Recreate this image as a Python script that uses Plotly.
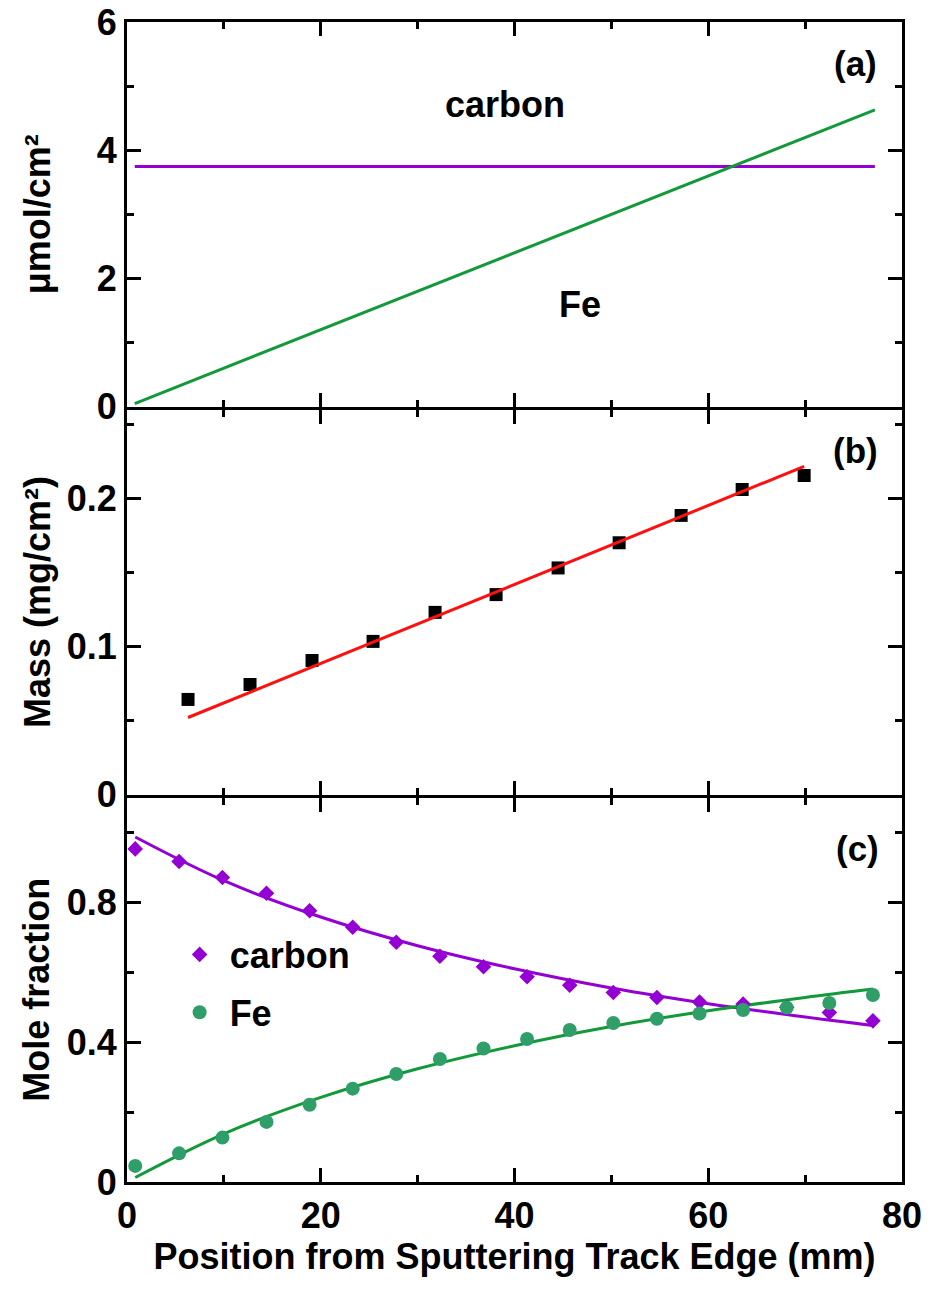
import plotly.graph_objects as go
from plotly.subplots import make_subplots

# ---- panel (a): areal amounts along the target (umol/cm^2)
a_x = [0.8, 77.2]
a_carbon = [3.746, 3.746]
a_fe = [0.046, 4.63]

# ---- panel (b): measured film mass and linear fit (mg/cm^2)
b_x = [6.3, 12.7, 19.1, 25.4, 31.8, 38.1, 44.5, 50.8, 57.2, 63.5, 69.9]
b_mass = [0.0642, 0.0743, 0.0905, 0.1034, 0.123, 0.135, 0.153, 0.170, 0.1885, 0.206, 0.2155]
b_fit_x = [6.3, 69.9]
b_fit_mass = [0.052, 0.2216]

# ---- panel (c): mole fractions
c_x = [0.85, 5.38, 9.85, 14.4, 18.85, 23.3, 27.8, 32.3, 36.8, 41.3, 45.7, 50.2,
       54.7, 59.1, 63.6, 68.1, 72.5, 77.0]
c_carbon = [0.953, 0.917, 0.871, 0.826, 0.776, 0.729, 0.686, 0.646, 0.616, 0.587,
            0.563, 0.542, 0.528, 0.515, 0.509, 0.500, 0.485, 0.461]
c_fe = [0.046, 0.082, 0.127, 0.172, 0.221, 0.267, 0.309, 0.352, 0.382, 0.409,
        0.435, 0.455, 0.467, 0.482, 0.492, 0.499, 0.512, 0.535]
c_fit_x = [0.85, 10, 20, 30, 40, 50, 60, 70, 77.0]
c_fit_carbon = [0.987, 0.862, 0.758, 0.676, 0.610, 0.555, 0.510, 0.472, 0.448]
c_fit_fe = [0.013, 0.138, 0.242, 0.324, 0.390, 0.445, 0.490, 0.528, 0.552]

x_ticks = [0, 20, 40, 60, 80]

PURPLE = "#9400D3"
GREEN_LINE = "#11993A"
GREEN_DOT = "#2F9E68"
RED = "#FF1010"

FONT = "Liberation Sans, Arial, sans-serif"

fig = make_subplots(rows=3, cols=1, shared_xaxes=True, vertical_spacing=0)

# (a)
fig.add_trace(go.Scatter(x=a_x, y=a_carbon, mode="lines", line=dict(color=PURPLE, width=3),
                         showlegend=False), row=1, col=1)
fig.add_trace(go.Scatter(x=a_x, y=a_fe, mode="lines", line=dict(color=GREEN_LINE, width=3),
                         showlegend=False), row=1, col=1)

# (b)
fig.add_trace(go.Scatter(x=b_x, y=b_mass, mode="markers",
                         marker=dict(symbol="square", size=13, color="black"),
                         showlegend=False), row=2, col=1)
fig.add_trace(go.Scatter(x=b_fit_x, y=b_fit_mass, mode="lines", line=dict(color=RED, width=3),
                         showlegend=False), row=2, col=1)

# (c)
fig.add_trace(go.Scatter(x=c_fit_x, y=c_fit_carbon, mode="lines", line_shape="spline",
                         line=dict(color=PURPLE, width=3), showlegend=False), row=3, col=1)
fig.add_trace(go.Scatter(x=c_fit_x, y=c_fit_fe, mode="lines", line_shape="spline",
                         line=dict(color=GREEN_LINE, width=3), showlegend=False), row=3, col=1)
fig.add_trace(go.Scatter(x=c_x, y=c_carbon, mode="markers", name="carbon", legendgroup="c",
                         marker=dict(symbol="diamond", size=12, color=PURPLE)), row=3, col=1)
fig.add_trace(go.Scatter(x=c_x, y=c_fe, mode="markers", name="Fe", legendgroup="fe",
                         marker=dict(symbol="circle", size=14, color=GREEN_DOT)), row=3, col=1)

axis_common = dict(showline=True, linewidth=3, linecolor="black", mirror="ticks",
                   ticks="inside", ticklen=14, tickwidth=2.5, tickcolor="black",
                   showgrid=False, zeroline=False, automargin=False,
                   tickfont=dict(family=FONT, size=36, color="black", weight="bold"))

for r in (1, 2, 3):
    fig.update_xaxes(range=[0, 80], tickvals=x_ticks,
                     minor=dict(dtick=10, tick0=0, ticks="inside", ticklen=7, tickwidth=2.5,
                                tickcolor="black", showgrid=False),
                     showticklabels=(r == 3), row=r, col=1, **axis_common)

# panel domains (paper height 1160 px); neighbouring frames share one border line
H = 1160.0
fig.update_yaxes(domain=[(775.5) / H, 1.0], row=1, col=1)
fig.update_yaxes(domain=[(387.5) / H, (772.5) / H], row=2, col=1)
fig.update_yaxes(domain=[0.0, (384.5) / H], row=3, col=1)

fig.update_yaxes(range=[0, 6], tickvals=[0, 2, 4, 6],
                 minor=dict(dtick=1, tick0=0, ticks="inside", ticklen=7, tickwidth=2.5,
                            tickcolor="black"), row=1, col=1, **axis_common)
fig.update_yaxes(range=[0, 0.26], tickvals=[0, 0.1, 0.2], ticktext=["0", "0.1", "0.2"],
                 minor=dict(dtick=0.05, tick0=0, ticks="inside", ticklen=7, tickwidth=2.5,
                            tickcolor="black"), row=2, col=1, **axis_common)
fig.update_yaxes(range=[0, 1.1], tickvals=[0, 0.4, 0.8], ticktext=["0", "0.4", "0.8"],
                 minor=dict(dtick=0.2, tick0=0, ticks="inside", ticklen=7, tickwidth=2.5,
                            tickcolor="black"), row=3, col=1, **axis_common)

fig.update_xaxes(title=dict(text="Position from Sputtering Track Edge (mm)", standoff=6,
                            font=dict(family=FONT, size=36, color="black", weight="bold")),
                 row=3, col=1)

# rotated y-axis titles, centred on each panel
ytitle_font = dict(family=FONT, size=36, color="black", weight="bold")
for yref, t in (("y domain", "μmol/cm²"), ("y2 domain", "Mass (mg/cm²)"),
                ("y3 domain", "Mole fraction")):
    fig.add_annotation(x=-0.116, y=0.5, xref="paper", yref=yref, text=t, textangle=-90,
                       showarrow=False, xanchor="center", yanchor="middle", font=ytitle_font)

label_font = dict(family=FONT, size=35, color="black", weight="bold")
fig.add_annotation(x=75.2, y=5.36, xref="x", yref="y", text="(a)", showarrow=False, font=label_font)
fig.add_annotation(x=75.2, y=0.232, xref="x2", yref="y2", text="(b)", showarrow=False, font=label_font)
fig.add_annotation(x=75.4, y=0.955, xref="x3", yref="y3", text="(c)", showarrow=False, font=label_font)
fig.add_annotation(x=39.0, y=4.71, xref="x", yref="y", text="carbon", showarrow=False,
                   font=dict(family=FONT, size=36, color="black", weight="bold"))
fig.add_annotation(x=46.8, y=1.585, xref="x", yref="y", text="Fe", showarrow=False,
                   font=dict(family=FONT, size=36, color="black", weight="bold"))

fig.update_layout(
    width=931, height=1289,
    margin=dict(l=127, r=29, t=22, b=107, autoexpand=False),
    plot_bgcolor="white", paper_bgcolor="white",
    showlegend=True,
    legend=dict(x=0.055, y=0.222, xanchor="left", yanchor="top", bgcolor="rgba(0,0,0,0)",
                font=dict(family=FONT, size=36, color="black", weight="bold"),
                tracegroupgap=8, itemsizing="trace", itemwidth=50),
)

fig.write_html("out.html")
